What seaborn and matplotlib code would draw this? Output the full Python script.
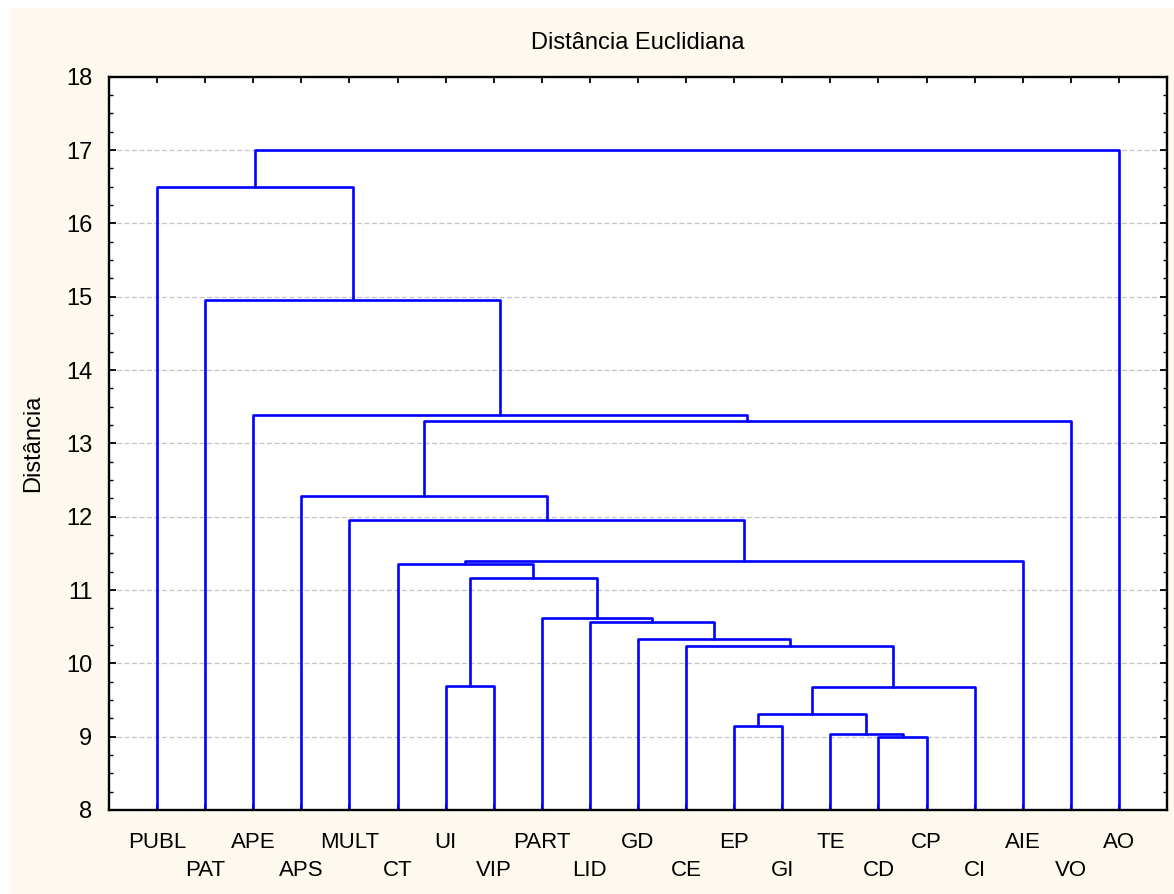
import pandas as pd
import seaborn as sns
import matplotlib.pyplot as plt
from matplotlib.patches import Rectangle
from matplotlib.ticker import MultipleLocator

# leaf order along the x axis
labels = ["PUBL", "PAT", "APE", "APS", "MULT", "CT", "UI", "VIP", "PART", "LID", "GD",
          "CE", "EP", "GI", "TE", "CD", "CP", "CI", "AIE", "VO", "AO"]

# joins: node ids 0-20 are the leaves, each join creates node 21, 22, ...
join_left = [15, 14, 12, 23, 24, 6, 11, 10, 9, 8, 26, 5, 32, 4, 3, 35, 2, 1, 0, 39]
join_right = [16, 21, 13, 22, 17, 7, 25, 27, 28, 29, 30, 31, 18, 33, 34, 19, 36, 37, 38, 20]
join_dist = [9.00, 9.04, 9.15, 9.31, 9.68, 9.69, 10.24, 10.33, 10.57, 10.62, 11.17,
             11.35, 11.39, 11.96, 12.28, 13.30, 13.38, 14.96, 16.49, 17.00]

y_ticks = [8, 9, 10, 11, 12, 13, 14, 15, 16, 17, 18]

# build the link segments (U shapes) for the dendrogram
base = y_ticks[0]
node_x = {i: i + 1 for i in range(len(labels))}
node_y = {i: base for i in range(len(labels))}
rows = []
for k, (a, b, d) in enumerate(zip(join_left, join_right, join_dist)):
    node = len(labels) + k
    pts = [(node_x[a], node_y[a]), (node_x[a], d), (node_x[b], d), (node_x[b], node_y[b])]
    for x, y in pts:
        rows.append({"link": k, "x": x, "y": y})
    node_x[node] = (node_x[a] + node_x[b]) / 2
    node_y[node] = d
df = pd.DataFrame(rows)

sns.set_style("ticks")
plt.rcParams["font.family"] = ["Liberation Sans", "DejaVu Sans"]
plt.rcParams["text.color"] = "black"
plt.rcParams["axes.labelcolor"] = "black"
plt.rcParams["xtick.color"] = "black"
plt.rcParams["ytick.color"] = "black"

fig = plt.figure(figsize=(11.74, 8.94), dpi=100, facecolor="white")
fig.patches.append(Rectangle((10 / 1174, 0), 1, (894 - 8) / 894, transform=fig.transFigure,
                             facecolor="#fdf9ee", edgecolor="none", zorder=-10))
ax = fig.add_axes([109 / 1174, 1 - 810 / 894, (1167 - 109) / 1174, (810 - 76.7) / 894])
ax.set_facecolor("white")

ax.yaxis.grid(True, color="#c4c4c4", linestyle=(0, (4, 2)), linewidth=0.9)
ax.set_axisbelow(True)

sns.lineplot(data=df, x="x", y="y", units="link", estimator=None, sort=False,
             color="#0000ff", linewidth=1.9, ax=ax, legend=False)

ax.set_xlim(0, len(labels) + 1)
ax.set_ylim(y_ticks[0], y_ticks[-1])
ax.set_yticks(y_ticks)
ax.yaxis.set_minor_locator(MultipleLocator(0.25))
ax.set_xticks(range(1, len(labels) + 1))
ax.set_xticklabels([lab if i % 2 == 0 else "\n" + lab for i, lab in enumerate(labels)])
for t in ax.get_xticklabels():
    t.set_linespacing(1.45)

ax.tick_params(axis="both", which="both", direction="in", top=True, right=True, color="black")
ax.tick_params(axis="y", which="major", length=5, width=1.3, labelsize=17, pad=12)
ax.tick_params(axis="y", which="minor", length=3, width=1.0)
ax.tick_params(axis="x", which="major", length=4, width=1.3, labelsize=16, pad=16)

for s in ax.spines.values():
    s.set_color("black")
    s.set_linewidth(1.7)

ax.set_xlabel("")
ax.set_ylabel("Distância", fontsize=17, labelpad=16)
ax.set_title("Distância Euclidiana", fontsize=17, pad=20)

fig.savefig("out.png", dpi=100, facecolor=fig.get_facecolor())
